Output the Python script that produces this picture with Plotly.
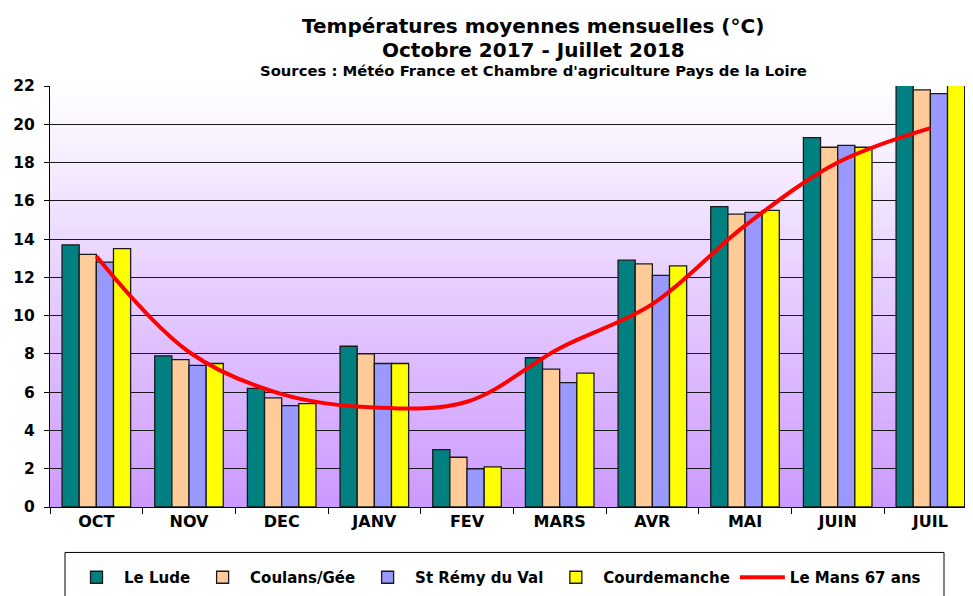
import plotly.graph_objects as go

months = ["OCT", "NOV", "DEC", "JANV", "FEV", "MARS", "AVR", "MAI", "JUIN", "JUIL"]
le_lude = [13.7, 7.9, 6.2, 8.4, 3.0, 7.8, 12.9, 15.7, 19.3, 22.4]
coulans = [13.2, 7.7, 5.7, 8.0, 2.6, 7.2, 12.7, 15.3, 18.8, 21.8]
st_remy = [12.8, 7.4, 5.3, 7.5, 2.0, 6.5, 12.1, 15.4, 18.9, 21.6]
courdemanche = [13.5, 7.5, 5.4, 7.5, 2.1, 7.0, 12.6, 15.5, 18.8, 22.2]
le_mans_67 = [13.1, 8.1, 5.9, 5.2, 5.5, 8.3, 10.6, 14.7, 18.0, 19.8]
y_ticks = [0, 2, 4, 6, 8, 10, 12, 14, 16, 18, 20, 22]

FONT = "DejaVu Sans"
OFF = 8  # page body margin
W, H = 973 - 2 * OFF, 596 - OFF
ML, MR, MT = 50 - OFF, 0, 86 - OFF
MB = H - (507.5 - OFF)
PW = W - ML - MR
PH = H - MT - MB
CAT_PX = 92.67
X_END = -0.5 + PW / CAT_PX

def px_x(wx):  # window pixel -> paper x
    return (wx - OFF - ML) / PW

def px_y(wy):  # window pixel -> paper y
    return (H - MB - (wy - OFF)) / PH

fig = go.Figure()

bar_series = [
    ("Le Lude", le_lude, "#008080"),
    ("Coulans/Gée", coulans, "#FFCC99"),
    ("St Rémy du Val", st_remy, "#9999FF"),
    ("Courdemanche", courdemanche, "#FFFF00"),
]
for name, vals, col in bar_series:
    fig.add_trace(go.Bar(
        x=months, y=vals, name=name,
        marker=dict(color=col, line=dict(color="#1a1a1a", width=1.3)),
    ))

fig.add_trace(go.Scatter(
    x=months, y=le_mans_67, name="Le Mans 67 ans", mode="lines",
    line=dict(color="#FF0000", width=4, shape="spline", smoothing=1.0),
))

# gradient plot background (white at top -> lavender at bottom)
shapes = []
N = 90
top = (255, 255, 255)
bot = (204, 153, 255)
for i in range(N):
    t = (i + 0.5) / N  # 0 bottom, 1 top
    c = tuple(round(bot[k] + (top[k] - bot[k]) * t) for k in range(3))
    shapes.append(dict(
        type="rect", xref="paper", yref="paper",
        x0=0, x1=1, y0=i / N, y1=(i + 1) / N + 0.002,
        fillcolor="rgb(%d,%d,%d)" % c, line=dict(width=0), layer="below",
    ))
# legend frame
shapes.append(dict(
    type="rect", xref="paper", yref="paper",
    x0=px_x(65), x1=px_x(944), y0=px_y(553), y1=px_y(640),
    fillcolor="white", line=dict(color="#000000", width=1), layer="below",
))

TX = px_x(533)
annotations = [
    dict(text="<b>Températures moyennes mensuelles (°C)</b>", x=TX, xref="paper",
         y=px_y(26), yref="paper", xanchor="center", yanchor="middle",
         showarrow=False, font=dict(family=FONT, size=20, color="black")),
    dict(text="<b>Octobre 2017 - Juillet 2018</b>", x=TX, xref="paper",
         y=px_y(49.5), yref="paper", xanchor="center", yanchor="middle",
         showarrow=False, font=dict(family=FONT, size=20, color="black")),
    dict(text="<b>Sources : Météo France et Chambre d'agriculture Pays de la Loire</b>",
         x=TX, xref="paper", y=px_y(70.5), yref="paper", xanchor="center", yanchor="middle",
         showarrow=False, font=dict(family=FONT, size=14.8, color="black")),
]

fig.update_layout(
    width=W, height=H,
    margin=dict(l=ML, r=MR, t=MT, b=MB, pad=0, autoexpand=False),
    paper_bgcolor="white",
    plot_bgcolor="rgba(0,0,0,0)",
    barmode="group", bargap=0.26, bargroupgap=0,
    shapes=shapes, annotations=annotations,
    font=dict(family=FONT, color="black"),
    showlegend=True,
    legend=dict(
        orientation="h", x=61 / W, xref="container", xanchor="left",
        y=(H - (561 - OFF)) / H, yref="container", yanchor="top",
        bgcolor="rgba(0,0,0,0)", borderwidth=0,
        font=dict(family=FONT, size=15, color="black", weight="bold"),
        itemwidth=45, traceorder="normal",
    ),
    xaxis=dict(
        type="category", range=[-0.5, X_END], automargin=False,
        showline=True, linecolor="black", linewidth=1,
        ticks="outside", tickson="boundaries", ticklen=6, tickcolor="black",
        showgrid=False,
        tickfont=dict(family=FONT, size=16, color="black", weight="bold"),
    ),
    yaxis=dict(
        range=[0, 22], tickvals=y_ticks, automargin=False,
        showline=True, linecolor="black", linewidth=1,
        ticks="outside", ticklen=5, tickcolor="black",
        showgrid=True, gridcolor="#1a1a1a", gridwidth=1, zeroline=False,
        tickfont=dict(family=FONT, size=15.5, color="black", weight="bold"),
        ticklabelstandoff=6,
    ),
)

fig.write_html("out.html")
